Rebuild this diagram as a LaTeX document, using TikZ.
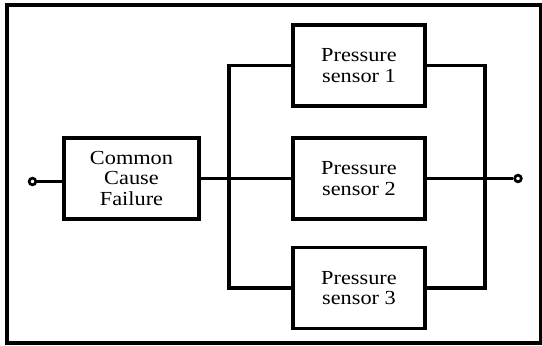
\documentclass[tikz,border=0pt]{standalone}
\usepackage{fontspec}
\setmainfont[FakeStretch=1.12]{Liberation Serif}
\usepackage{tikz}
\usetikzlibrary{positioning, calc}

\begin{document}
\begin{tikzpicture}[x=0.03cm, y=-0.03cm,
    wire/.style={line width=2.7pt},
    blockbox/.style={draw, line width=3pt, align=center, inner sep=0pt,
        minimum width=3.96cm, minimum height=2.43cm,
        font=\fontsize{17}{17.5}\selectfont},
    terminal/.style={draw, circle, line width=2.3pt, inner sep=0pt, minimum size=0.2cm, fill=white}]
    \useasboundingbox (0,0) rectangle (542,346);

    % Outer frame
    \draw[line width=2.8pt] (7,5) rectangle (541,343);

    % Blocks
    \node[blockbox, minimum width=4.05cm] (ccf) at (131.5,178.5) {Common\\Cause\\Failure};
    \node[blockbox] (ps1) at (359,65.5) {Pressure\\sensor 1};
    \node[blockbox] (ps2) at (359,178.5) {Pressure\\sensor 2};
    \node[blockbox] (ps3) at (359,288) {Pressure\\sensor 3};

    % Bus lines
    \coordinate (lbus) at (229,178.5);
    \coordinate (rbus) at (485,178.5);

    % Connections
    \draw[wire] (ccf.east) -- (ps2.west);
    \draw[wire] (ps1.west) -- (ps1.west -| lbus) |- (ps3.west);
    \draw[wire] (ps1.east) -- (ps1.east -| rbus) |- (ps3.east);

    % Terminals
    \node[terminal] (inp) at (32.5,181.5) {};
    \node[terminal] (outp) at (518,178.5) {};
    \draw[wire] (inp) -- (inp -| ccf.west);
    \draw[wire] (ps2.east) -- (outp);

\end{tikzpicture}
\end{document}
